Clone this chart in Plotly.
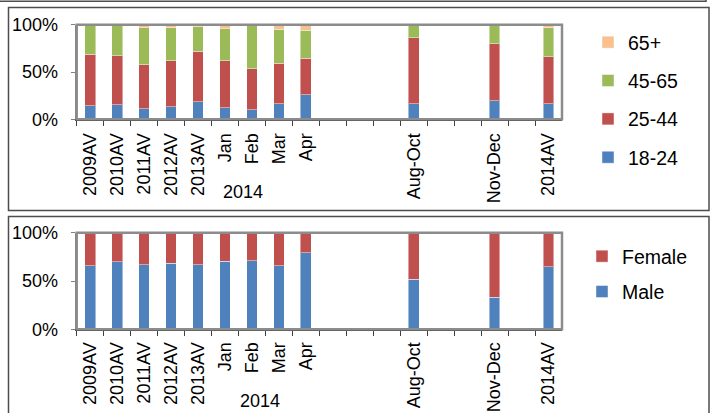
import plotly.graph_objects as go

W, H = 715, 413

# Period categories; blank slots are months with no survey data
categories = ["2009AV", "2010AV", "2011AV", "2012AV", "2013AV", "Jan", "Feb", "Mar", "Apr",
              " ", "  ", "   ", "Aug-Oct", "    ", "     ", "Nov-Dec", "      ", "2014AV"]

# Age-group shares (%)
age_18_24 = [14.5, 15.2, 11.3, 13.4, 18.7, 12.4, 10.2, 16.3, 25.8, None, None, None, 16.6, None, None, 19.4, None, 16.6]
age_25_44 = [54.4, 51.9, 46.3, 48.4, 53.0, 49.4, 43.2, 43.1, 38.9, None, None, None, 69.6, None, None, 60.5, None, 49.5]
age_45_65 = [30.4, 31.8, 39.2, 35.0, 26.2, 34.0, 46.6, 35.7, 29.3, None, None, None, 13.8, None, None, 20.1, None, 30.7]
age_65_plus = [0.7, 1.1, 3.2, 3.2, 2.1, 4.2, 0.0, 4.9, 6.0, None, None, None, 0.0, None, None, 0.0, None, 3.2]

# Gender shares (%)
male = [65.9, 69.7, 66.6, 68.6, 66.6, 70.3, 71.0, 65.9, 79.3, None, None, None, 51.7, None, None, 33.1, None, 64.8]
female = [34.1, 30.3, 33.4, 31.4, 33.4, 29.7, 29.0, 34.1, 20.7, None, None, None, 48.3, None, None, 66.9, None, 35.2]

y_ticks = [0, 50, 100]
y_tick_text = ["0%", "50%", "100%"]

BLUE, RED, GREEN, ORANGE = "#4F81BD", "#C0504D", "#9BBB59", "#FAC090"
FONT = "Liberation Sans, Arial, sans-serif"

fig = go.Figure()

# stacking follows trace order; legend lists the top segment first
age_series = [("18-24", age_18_24, BLUE), ("25-44", age_25_44, RED),
              ("45-65", age_45_65, GREEN), ("65+", age_65_plus, ORANGE)]
for i, (name, vals, col) in enumerate(age_series):
    fig.add_trace(go.Bar(x=categories, y=vals, name=name, marker_color=col,
                         marker_line=dict(color="rgba(255,255,255,0.45)", width=1),
                         xaxis="x", yaxis="y", legend="legend", legendgroup=name,
                         legendrank=100 - i))

gender_series = [("Male", male, BLUE), ("Female", female, RED)]
for i, (name, vals, col) in enumerate(gender_series):
    fig.add_trace(go.Bar(x=categories, y=vals, name=name, marker_color=col,
                         marker_line=dict(color="rgba(255,255,255,0.45)", width=1),
                         xaxis="x2", yaxis="y2", legend="legend2", legendgroup=name,
                         legendrank=100 - i))


def px_x(v):
    return v / W


def px_y(v):
    return 1 - v / H


x_dom = [px_x(76.7), px_x(562)]
top_dom = [px_y(119.3), px_y(24.7)]
bot_dom = [px_y(329.3), px_y(232.7)]

xcommon = dict(type="category", categoryorder="array", categoryarray=categories,
               tickson="boundaries", ticks="outside", ticklen=5, tickcolor="#404040",
               tickangle=-90, showline=True, linecolor="#404040", linewidth=1.5,
               showgrid=False, automargin=False,
               tickfont=dict(family=FONT, size=18, color="#000"), fixedrange=True)
ycommon = dict(range=[0, 100], tickmode="array", tickvals=y_ticks, ticktext=y_tick_text,
               ticks="outside", ticklen=4, tickcolor="#808080", showline=True,
               linecolor="#808080", linewidth=2, showgrid=False, zeroline=False,
               automargin=False, ticklabelstandoff=9,
               tickfont=dict(family=FONT, size=18, color="#000"), fixedrange=True)

fig.update_layout(
    template="none",
    width=W, height=H, autosize=False,
    margin=dict(l=0, r=0, t=0, b=0, pad=0),
    paper_bgcolor="white", plot_bgcolor="white",
    barmode="stack", bargap=0.6,
    font=dict(family=FONT, color="#000"),
    xaxis=dict(domain=x_dom, anchor="y", ticklabelstandoff=5, **xcommon),
    yaxis=dict(domain=top_dom, anchor="x", **ycommon),
    xaxis2=dict(domain=x_dom, anchor="y2", ticklabelstandoff=4, **xcommon),
    yaxis2=dict(domain=bot_dom, anchor="x2", **ycommon),
    legend=dict(x=px_x(588), xanchor="left", y=px_y(23), yanchor="top",
                traceorder="grouped", tracegroupgap=10,
                font=dict(family=FONT, size=19.5, color="#000"),
                bgcolor="rgba(0,0,0,0)", borderwidth=0),
    legend2=dict(x=px_x(582), xanchor="left", y=px_y(237), yanchor="top",
                 traceorder="grouped", tracegroupgap=7,
                 font=dict(family=FONT, size=19.5, color="#000"),
                 bgcolor="rgba(0,0,0,0)", borderwidth=0),
    showlegend=True,
)

shapes = []
# Plot-area frames
for xr, yr in (("x domain", "y domain"), ("x2 domain", "y2 domain")):
    shapes.append(dict(type="rect", xref=xr, yref=yr, x0=0, x1=1, y0=0, y1=1,
                       line=dict(color="#8c8c8c", width=2.5), layer="above"))
# Panel borders
shapes.append(dict(type="rect", xref="paper", yref="paper",
                   x0=px_x(8.5), x1=px_x(709), y0=px_y(210.5), y1=px_y(7.5),
                   line=dict(color="#4d4d4d", width=1.5)))
shapes.append(dict(type="rect", xref="paper", yref="paper",
                   x0=px_x(8.5), x1=px_x(709), y0=px_y(420), y1=px_y(216.5),
                   line=dict(color="#4d4d4d", width=1.5)))
# Edge of the panel above
shapes.append(dict(type="line", xref="paper", yref="paper",
                   x0=0, x1=px_x(706), y0=px_y(1.2), y1=px_y(1.2),
                   line=dict(color="#4d4d4d", width=1.5)))
shapes.append(dict(type="line", xref="paper", yref="paper",
                   x0=px_x(706), x1=px_x(706), y0=px_y(0), y1=px_y(2),
                   line=dict(color="#4d4d4d", width=1.5)))
fig.update_layout(shapes=shapes)

fig.add_annotation(text="2014", xref="paper", yref="paper", x=px_x(243), y=px_y(192),
                   xanchor="center", yanchor="middle", showarrow=False,
                   font=dict(family=FONT, size=18, color="#000"))
fig.add_annotation(text="2014", xref="paper", yref="paper", x=px_x(260), y=px_y(401),
                   xanchor="center", yanchor="middle", showarrow=False,
                   font=dict(family=FONT, size=18, color="#000"))

fig.write_html("out.html")
